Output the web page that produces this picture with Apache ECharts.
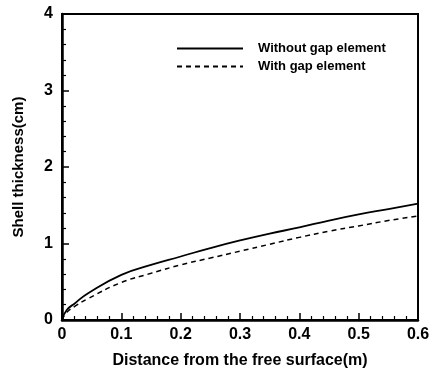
<!DOCTYPE html>
<html>
<head>
<meta charset="utf-8">
<script src="https://cdn.jsdelivr.net/npm/echarts@6/dist/echarts.min.js"></script>
<style>
html,body{margin:0;padding:0;background:#fff;}
#main{width:435px;height:375px;}
</style>
</head>
<body>
<div id="main"></div>
<script>
// values
var distance = [0, 0.008, 0.022, 0.044, 0.1, 0.15, 0.2, 0.25, 0.3, 0.35, 0.4, 0.45, 0.5, 0.55, 0.6];
var withoutGap = [0, 0.13, 0.22, 0.35, 0.59, 0.72, 0.83, 0.94, 1.04, 1.13, 1.21, 1.30, 1.38, 1.45, 1.52];
var withGap = [0, 0.10, 0.18, 0.28, 0.49, 0.61, 0.72, 0.81, 0.90, 0.99, 1.08, 1.16, 1.23, 1.30, 1.36];
var seriesNames = ['Without gap element', 'With gap element'];

function pairs(xs, ys){
    var out = [];
    for (var i = 0; i < xs.length; i++) out.push([xs[i], ys[i]]);
    return out;
}

var chart = echarts.init(document.getElementById('main'));
var font = 'Liberation Sans';

var option = {
    animation: false,
    textStyle: { fontFamily: font },
    grid: {
        left: 62, right: 17, top: 14, bottom: 55,
        show: true,
        borderColor: '#000',
        borderWidth: 2
    },
    legend: {
        orient: 'vertical',
        left: 171,
        top: 37,
        itemWidth: 66,
        itemHeight: 12,
        itemGap: 5,
        itemStyle: { opacity: 0 },
        data: seriesNames,
        textStyle: { fontSize: 13, fontWeight: 'bold', color: '#000', fontFamily: font, padding: [0, 0, 0, 10] }
    },
    xAxis: {
        type: 'value',
        min: 0, max: 0.6, interval: 0.1,
        name: 'Distance from the free surface(m)',
        nameLocation: 'middle',
        nameGap: 33,
        nameTextStyle: { fontSize: 16, fontWeight: 'bold', color: '#000' },
        axisLine: { lineStyle: { color: '#000', width: 2.5 } },
        axisTick: { inside: true, length: 7, lineStyle: { color: '#000', width: 1.5 } },
        minorTick: { show: true, splitNumber: 5, length: 4, lineStyle: { color: '#000', width: 1.2 } },
        splitLine: { show: false },
        axisLabel: {
            fontSize: 16, fontWeight: 'bold', color: '#000', margin: 7,
            formatter: function (v) { return v === 0 ? '0' : v.toFixed(1); }
        }
    },
    yAxis: {
        type: 'value',
        min: 0, max: 4, interval: 1,
        name: 'Shell thickness(cm)',
        nameLocation: 'middle',
        nameGap: 36,
        nameTextStyle: { fontSize: 15, fontWeight: 'bold', color: '#000' },
        axisLine: { lineStyle: { color: '#000', width: 2.5 } },
        axisTick: { inside: true, length: 7, lineStyle: { color: '#000', width: 1.5 } },
        minorTick: { show: true, splitNumber: 5, length: 4, lineStyle: { color: '#000', width: 1.2 } },
        splitLine: { show: false },
        axisLabel: { fontSize: 16, fontWeight: 'bold', color: '#000', margin: 9 }
    },
    series: [
        {
            name: seriesNames[0],
            type: 'line',
            smooth: 0.5,
            symbol: 'none',
            lineStyle: { color: '#000', width: 1.8, type: 'solid' },
            itemStyle: { color: '#000' },
            data: pairs(distance, withoutGap)
        },
        {
            name: seriesNames[1],
            type: 'line',
            smooth: 0.5,
            symbol: 'none',
            lineStyle: { color: '#000', width: 1.5, type: [5, 4] },
            itemStyle: { color: '#000' },
            data: pairs(distance, withGap)
        }
    ]
};

chart.setOption(option);
</script>
</body>
</html>
